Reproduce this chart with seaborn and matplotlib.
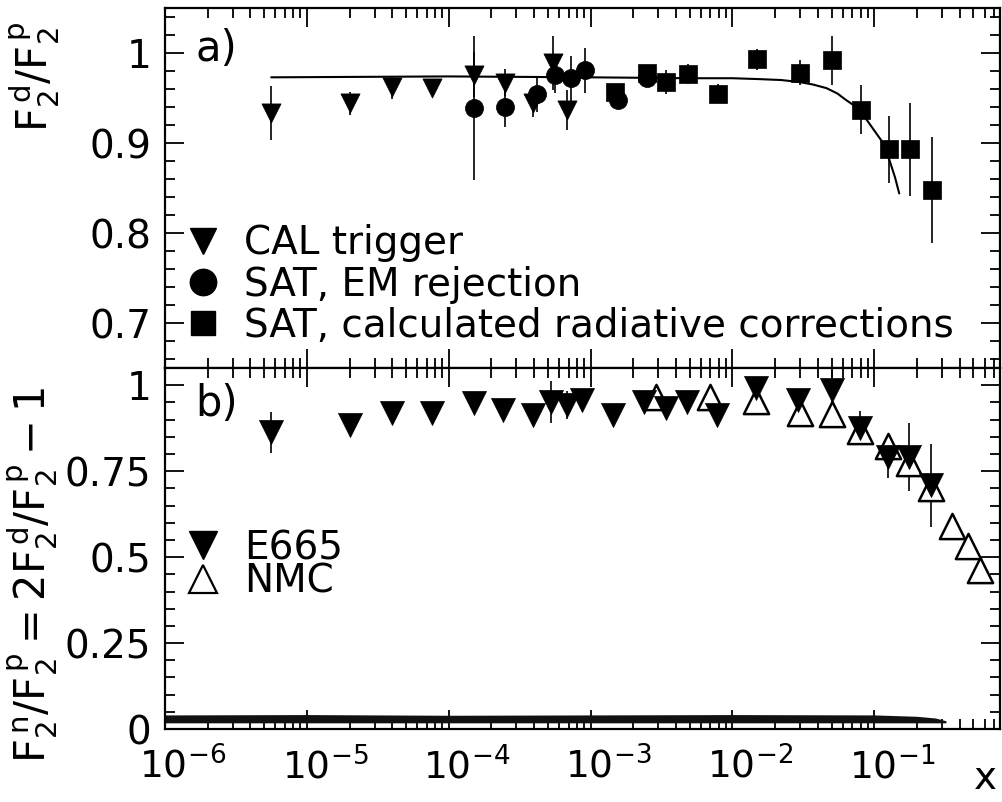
import numpy as np
import pandas as pd
import matplotlib
matplotlib.use("Agg")
import matplotlib.pyplot as plt
from matplotlib.lines import Line2D
from matplotlib.transforms import ScaledTranslation
from matplotlib.ticker import LogLocator, MultipleLocator, FixedLocator, NullFormatter
import seaborn as sns

# ---------------- data ----------------
# panel a) F2d/F2p
cal_x = [5.6e-6, 2.0e-5, 4.0e-5, 7.6e-5, 1.5e-4, 2.5e-4, 3.9e-4, 5.4e-4, 6.8e-4]
cal_y = [0.933, 0.944, 0.962, 0.961, 0.976, 0.967, 0.944, 0.989, 0.937]
cal_err = [0.030, 0.013, 0.013, 0.008, 0.025, 0.015, 0.015, 0.030, 0.022]

em_x = [1.5e-4, 2.5e-4, 4.2e-4, 5.6e-4, 7.3e-4, 9.1e-4, 1.57e-3, 2.5e-3]
em_y = [0.939, 0.940, 0.955, 0.976, 0.972, 0.981, 0.948, 0.972]
em_err = [0.080, 0.022, 0.020, 0.020, 0.025, 0.025, 0.008, 0.010]

rad_x = [1.48e-3, 2.5e-3, 3.4e-3, 4.9e-3, 7.9e-3, 0.015, 0.030, 0.050, 0.081, 0.128, 0.18, 0.256]
rad_y = [0.957, 0.978, 0.968, 0.977, 0.955, 0.993, 0.978, 0.992, 0.937, 0.893, 0.893, 0.848]
rad_err = [0.006, 0.007, 0.013, 0.011, 0.011, 0.012, 0.014, 0.027, 0.027, 0.037, 0.052, 0.059]

curve_x = [5.6e-6, 1e-4, 1e-3, 5e-3, 0.010, 0.0155, 0.022, 0.029, 0.037, 0.046, 0.055,
           0.063, 0.078, 0.092, 0.112, 0.128, 0.14, 0.15]
curve_y = [0.973, 0.974, 0.973, 0.972, 0.972, 0.971, 0.970, 0.968, 0.965, 0.961, 0.955,
           0.948, 0.938, 0.922, 0.903, 0.881, 0.862, 0.844]

# panel b) F2n/F2p
e665_x = [5.6e-6, 2.0e-5, 4.0e-5, 7.6e-5, 1.5e-4, 2.4e-4, 3.9e-4, 5.3e-4, 6.8e-4, 8.7e-4,
          1.45e-3, 2.4e-3, 3.4e-3, 4.8e-3, 7.8e-3, 0.0146, 0.029, 0.050, 0.079, 0.126, 0.176, 0.251]
e665_y = [0.863, 0.884, 0.919, 0.919, 0.948, 0.927, 0.913, 0.951, 0.942, 0.956,
          0.913, 0.951, 0.933, 0.951, 0.913, 0.991, 0.956, 0.985, 0.875, 0.791, 0.791, 0.709]
e665_err = [0.06, 0.01, 0.01, 0.01, 0.01, 0.01, 0.03, 0.06, 0.04, 0.03,
            0.01, 0.01, 0.01, 0.01, 0.01, 0.02, 0.02, 0.06, 0.05, 0.06, 0.10, 0.12]

nmc_x = [2.9e-3, 6.9e-3, 0.0146, 0.030, 0.050, 0.079, 0.126, 0.176, 0.251, 0.354, 0.46, 0.56]
nmc_y = [0.965, 0.965, 0.954, 0.919, 0.916, 0.867, 0.824, 0.775, 0.702, 0.590, 0.532, 0.462]

band_x = [1e-6, 1e-5, 1e-4, 1e-3, 1e-2, 0.1, 0.2, 0.27, 0.32]
band_top = [0.041, 0.042, 0.040, 0.041, 0.042, 0.041, 0.037, 0.032, 0.024]
band_bottom = [0.018, 0.018, 0.018, 0.018, 0.018, 0.018, 0.018, 0.018, 0.018]

ya_ticks = [0.7, 0.8, 0.9, 1.0]
ya_labels = ["0.7", "0.8", "0.9", "1"]
yb_ticks = [0, 0.25, 0.5, 0.75, 1.0]
yb_labels = ["0", "0.25", "0.5", "0.75", "1"]
x_ticks = [1e-6, 1e-5, 1e-4, 1e-3, 1e-2, 1e-1]
x_labels = [r"$10^{-6}$", r"$10^{-5}$", r"$10^{-4}$", r"$10^{-3}$", r"$10^{-2}$", r"$10^{-1}$"]

# ---------------- style ----------------
sns.set_theme(style="ticks")
plt.rcParams["font.family"] = ["DejaVu Sans"]
plt.rcParams["mathtext.fontset"] = "dejavusans"
plt.rcParams["text.color"] = "black"
plt.rcParams["axes.linewidth"] = 1.6

FS = 28
fig = plt.figure(figsize=(10.02, 8.02), dpi=100)
fig.patch.set_facecolor("white")
ax1 = fig.add_axes([0.1647, 0.5411, 0.8333, 0.4489])
ax2 = fig.add_axes([0.1647, 0.0910, 0.8333, 0.4501])

for ax in (ax1, ax2):
    ax.set_facecolor("white")
    ax.set_xscale("log")
    ax.set_xlim(1e-6, 0.77)
    for s in ax.spines.values():
        s.set_color("black")
        s.set_linewidth(1.6)
    ax.xaxis.set_major_locator(FixedLocator(x_ticks))
    ax.xaxis.set_minor_locator(LogLocator(base=10, subs=np.arange(2, 10), numticks=20))
    ax.tick_params(which="both", direction="in", top=True, right=True, color="black",
                   width=1.3, labelsize=FS, labelcolor="black")
    ax.tick_params(which="major", length=14)
    ax.tick_params(which="minor", length=7)
    ax.tick_params(axis="y", which="major", pad=10)
    ax.grid(False)

# ---------------- panel a ----------------
ax1.set_ylim(0.65, 1.05)
ax1.set_yticks(ya_ticks)
ax1.set_yticklabels(ya_labels)
ax1.yaxis.set_minor_locator(MultipleLocator(0.02))
ax1.xaxis.set_major_formatter(NullFormatter())
ax1.xaxis.set_minor_formatter(NullFormatter())

ax1.errorbar(cal_x, cal_y, yerr=cal_err, fmt="none", ecolor="black", elinewidth=1.2, capsize=0)
ax1.errorbar(em_x, em_y, yerr=em_err, fmt="none", ecolor="black", elinewidth=1.2, capsize=0)
ax1.errorbar(rad_x, rad_y, yerr=rad_err, fmt="none", ecolor="black", elinewidth=1.2, capsize=0)
sns.lineplot(x=curve_x, y=curve_y, ax=ax1, color="black", linewidth=1.5, sort=False,
             estimator=None)
sns.scatterplot(x=cal_x, y=cal_y, ax=ax1, marker="v", s=190, color="black",
                edgecolor="black", linewidth=0.5, zorder=3)
sns.scatterplot(x=em_x, y=em_y, ax=ax1, marker="o", s=170, color="black",
                edgecolor="black", linewidth=0.5, zorder=3)
sns.scatterplot(x=rad_x, y=rad_y, ax=ax1, marker="s", s=150, color="black",
                edgecolor="black", linewidth=0.5, zorder=3)

h1 = [Line2D([], [], ls="none", marker="v", ms=19, color="black"),
      Line2D([], [], ls="none", marker="o", ms=19, color="black"),
      Line2D([], [], ls="none", marker="s", ms=17, color="black")]
ax1.legend(h1, ["CAL trigger", "SAT, EM rejection", "SAT, calculated radiative corrections"],
           loc="center left", bbox_to_anchor=(0.022, 0.232), frameon=False, fontsize=FS,
           handlelength=1.0, handletextpad=0.55, labelspacing=0.08, borderpad=0,
           borderaxespad=0, labelcolor="black")
ax1.text(0.036, 0.885, "a)", transform=ax1.transAxes, fontsize=30, color="black",
         ha="left", va="center")

# ---------------- panel b ----------------
ax2.set_ylim(0, 1.05)
ax2.set_yticks(yb_ticks)
ax2.set_yticklabels(yb_labels)
ax2.yaxis.set_minor_locator(MultipleLocator(0.05))
ax2.set_xticklabels(x_labels)
ax2.xaxis.set_minor_formatter(NullFormatter())
ax2.tick_params(axis="x", which="major", pad=13, labelsize=27)
for lab in ax2.get_xticklabels():
    lab.set_transform(lab.get_transform() + ScaledTranslation(13 / 72, 0, fig.dpi_scale_trans))

ax2.fill_between(band_x, band_bottom, band_top, color="#111111", linewidth=0, zorder=1)
ax2.errorbar(e665_x, e665_y, yerr=e665_err, fmt="none", ecolor="black", elinewidth=1.2,
             capsize=0, zorder=2)
sns.scatterplot(x=nmc_x, y=nmc_y, ax=ax2, marker="^", s=330, facecolor="white",
                edgecolor="black", linewidth=1.8, zorder=3)
sns.scatterplot(x=e665_x, y=e665_y, ax=ax2, marker="v", s=300, color="black",
                edgecolor="black", linewidth=0.5, zorder=4)

h2 = [Line2D([], [], ls="none", marker="v", ms=20, color="black"),
      Line2D([], [], ls="none", marker="^", ms=20, markerfacecolor="white",
             markeredgecolor="black", markeredgewidth=1.6)]
ax2.legend(h2, ["E665", "NMC"], loc="center left", bbox_to_anchor=(0.022, 0.455),
           frameon=False, fontsize=FS, handlelength=1.0, handletextpad=0.55,
           labelspacing=-0.12, borderpad=0, borderaxespad=0, labelcolor="black")
ax2.text(0.036, 0.9, "b)", transform=ax2.transAxes, fontsize=30, color="black",
         ha="left", va="center")

# ---------------- axis titles ----------------
fig.text(0.034, 0.905, r"$\mathrm{F}_2^{\,\mathrm{d}}/\mathrm{F}_2^{\,\mathrm{p}}$", rotation=90,
         ha="center", va="center", fontsize=30, color="black")
fig.text(0.032, 0.283,
         r"$\mathrm{F}_2^{\,\mathrm{n}}/\mathrm{F}_2^{\,\mathrm{p}} = 2\mathrm{F}_2^{\,\mathrm{d}}/\mathrm{F}_2^{\,\mathrm{p}} - 1$",
         rotation=90, ha="center", va="center", fontsize=30, color="black")
fig.text(0.983, 0.006, "x", ha="center", va="bottom", fontsize=FS, color="black")

fig.savefig("out.png", dpi=100, facecolor="white")
